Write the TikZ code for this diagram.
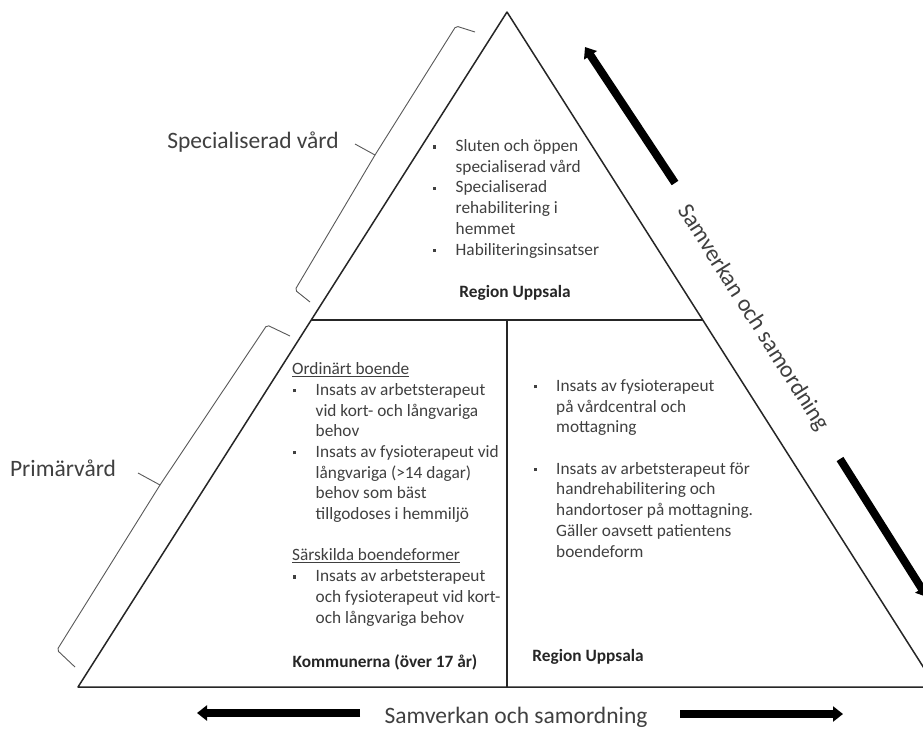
\documentclass[tikz,border=0pt]{standalone}
\usepackage{fontspec}
\setmainfont{Carlito}
\usetikzlibrary{arrows.meta,calc}
\definecolor{txt}{gray}{0.25}
\definecolor{brc}{gray}{0.35}
\newcommand{\blt}{\makebox[23.5pt][l]{\hspace{1pt}\rule[3pt]{3.2pt}{3.2pt}}}
\newcommand{\indt}{\hspace*{23.5pt}}
\tikzset{
  lbl/.style={font=\fontsize{23.5}{28}\selectfont, text=txt, inner sep=0},
  body/.style={font=\fontsize{17.3}{20.7}\selectfont, text=txt, inner sep=0, align=left, anchor=base west},
  boldlbl/.style={font=\fontsize{17.3}{20.7}\selectfont\bfseries, text=black!85, inner sep=0},
  tri/.style={line width=1.5pt, draw=black!85},
  bracket/.style={line width=0.9pt, draw=brc, rounded corners=2pt},
  bigarrow/.style={line width=8pt, -{Triangle[width=15pt,length=10pt]}}
}
\begin{document}
\begin{tikzpicture}[x=1pt,y=-1pt]
\fill[white] (0,0) rectangle (923,729);
\useasboundingbox (0,0) rectangle (923,729);
% triangle
\coordinate (A) at (507,12);
\coordinate (B) at (78,687);
\coordinate (C) at (936,687);
\coordinate (L1) at ($(A)!0.4563!(B)$);
\coordinate (R1) at ($(A)!0.4563!(C)$);
\coordinate (M1) at (507,320);
\coordinate (M2) at (507,687);
\draw[tri, line join=round] (A) -- (B) -- (C) -- cycle;
\draw[tri] (L1) -- (R1);
\draw[tri] (M1) -- (M2);
% top block (anchor = baseline of last line)
\node[body] (t1) at (432,255) {\blt Sluten och öppen\\ \indt specialiserad vård\\ \blt Specialiserad\\ \indt rehabilitering i\\ \indt hemmet\\ \blt Habiliteringsinsatser};
\node[boldlbl] (ru1) at (515,293) {Region Uppsala};
% left block
\node[body] (t2) at (292,623) {\underline{Ordinärt boende}\\ \blt Insats av arbetsterapeut\\ \indt vid kort- och långvariga\\ \indt behov\\ \blt Insats av fysioterapeut vid\\ \indt långvariga (>14 dagar)\\ \indt behov som bäst\\ \indt tillgodoses i hemmiljö\\[20.7pt] \underline{Särskilda boendeformer}\\ \blt Insats av arbetsterapeut\\ \indt och fysioterapeut vid kort-\\ \indt och långvariga behov};
\node[boldlbl] (kom) at (385,662) {Kommunerna (över 17 år)};
% right block
\node[body] (t3) at (532.5,557) {\blt Insats av fysioterapeut\\ \indt på vårdcentral och\\ \indt mottagning\\[20.7pt] \blt Insats av arbetsterapeut för\\ \indt handrehabilitering och\\ \indt handortoser på mottagning.\\ \indt Gäller oavsett patientens\\ \indt boendeform};
\node[boldlbl] (ru2) at (588,657) {Region Uppsala};
% labels
\node[lbl] (spec) at (253,142) {Specialiserad vård};
\node[lbl] (prim) at (63,468) {Primärvård};
\node[lbl] (sam1) at (516,717) {Samverkan och samordning};
\node[lbl, rotate=-57.56] (sam2) at (753,318) {Samverkan och samordning};
% brackets
\draw[bracket] (475,32) -- (456,26) -- (375,155) -- (295,290) -- (310,302);
\draw[bracket] (375,155) -- (355,144);
\draw[bracket] (290,336) -- (267,325) -- (160,485) -- (57,650) -- (75,667);
\draw[bracket] (160,485) -- (138,473);
% arrows
\coordinate (a1s) at (675,183); \coordinate (a1e) at (585,47);
\coordinate (a2s) at (840,459); \coordinate (a2e) at (927,597);
\coordinate (a3s) at (360,713); \coordinate (a3e) at (197,713);
\coordinate (a4s) at (680,714); \coordinate (a4e) at (843,714);
\draw[bigarrow] (a1s) -- (a1e);
\draw[bigarrow] (a2s) -- (a2e);
\draw[bigarrow] (a3s) -- (a3e);
\draw[bigarrow] (a4s) -- (a4e);
\end{tikzpicture}
\end{document}
